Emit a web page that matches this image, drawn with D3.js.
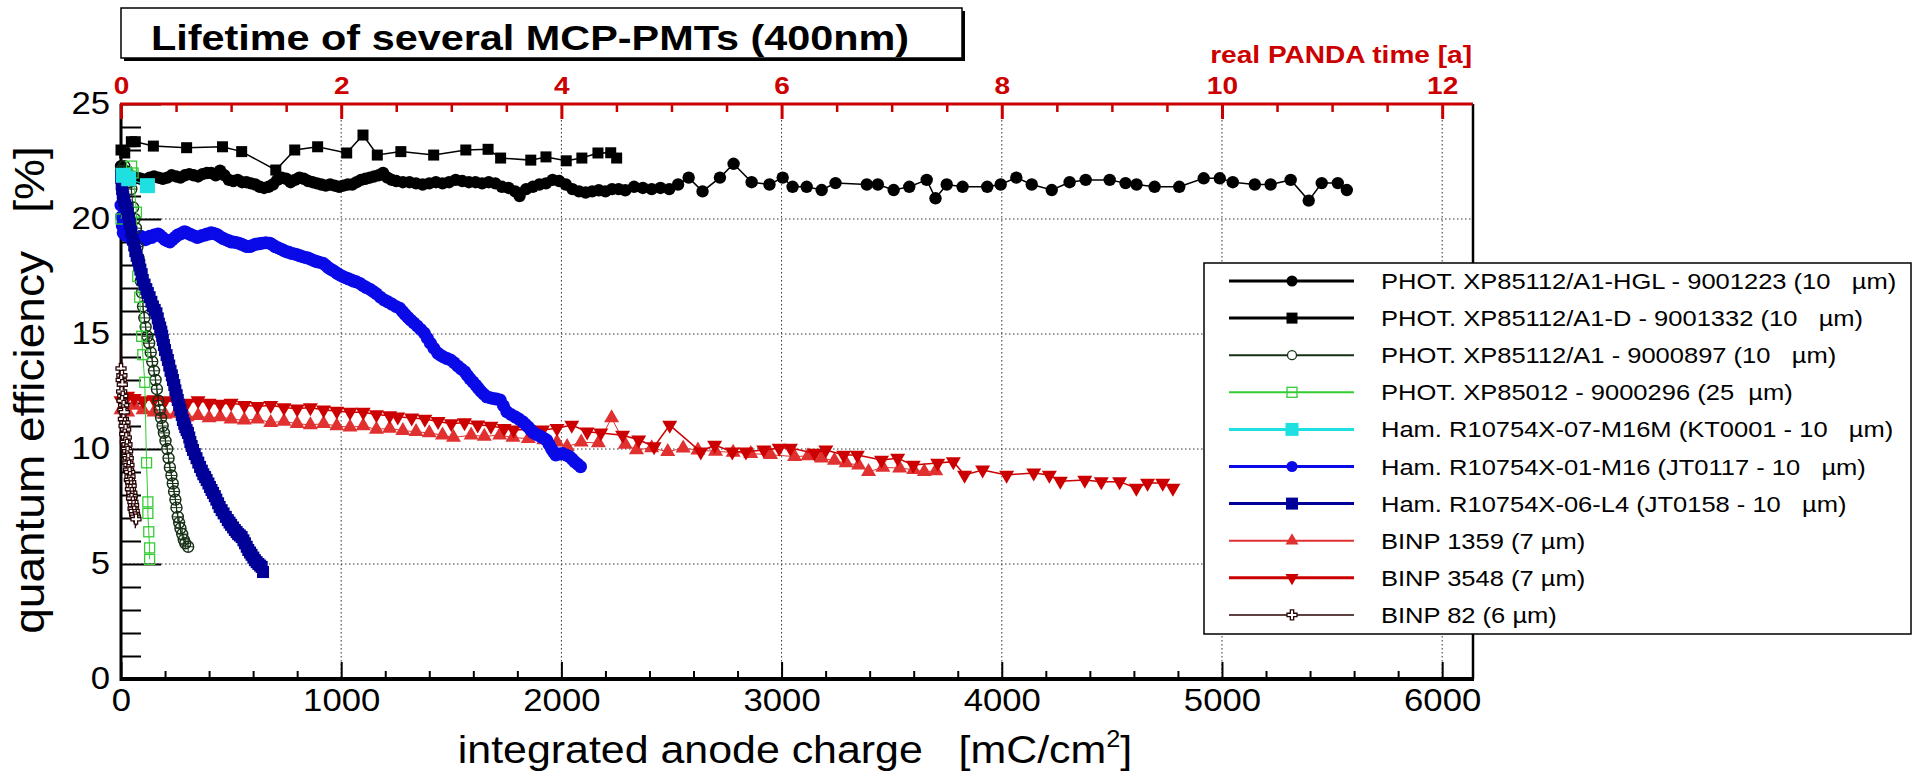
<!DOCTYPE html>
<html>
<head>
<meta charset="utf-8">
<script src="https://cdn.jsdelivr.net/npm/d3@7"></script>
<style>
  html, body { margin: 0; padding: 0; background: #fff; }
  svg { display: block; font-family: "Liberation Sans", Arial, Helvetica, sans-serif; }
  text { white-space: pre; }
</style>
</head>
<body>
<div class="chart"></div>
<script>
// ---- data: [integrated anode charge (mC/cm2), quantum efficiency (%)] ----
const phot9001223 = [[0,22.3],[15,22.1],[30,21.9],[50,21.7],[70,21.8],[90,21.75],[110,21.7],[130,21.8],[150,21.85],[170,21.8],[190,21.75],[210,21.8],[230,21.9],[250,21.85],[270,21.8],[290,21.9],[310,21.95],[330,21.9],[350,21.85],[370,21.95],[390,22.0],[410,22.0],[430,21.9],[450,22.1],[470,21.9],[490,21.7],[510,21.65],[530,21.7],[550,21.6],[570,21.6],[590,21.55],[610,21.5],[630,21.4],[650,21.35],[670,21.4],[690,21.5],[710,21.7],[730,21.8],[750,21.75],[770,21.6],[790,21.7],[810,21.8],[830,21.75],[850,21.65],[870,21.6],[890,21.55],[910,21.5],[930,21.45],[950,21.5],[970,21.45],[990,21.4],[1010,21.45],[1030,21.5],[1050,21.5],[1070,21.6],[1090,21.7],[1110,21.75],[1130,21.8],[1150,21.85],[1170,21.9],[1190,22.0],[1210,21.8],[1230,21.7],[1250,21.65],[1280,21.6],[1310,21.6],[1340,21.55],[1370,21.5],[1400,21.55],[1430,21.6],[1460,21.55],[1490,21.6],[1520,21.7],[1550,21.65],[1580,21.6],[1610,21.6],[1640,21.55],[1670,21.6],[1700,21.55],[1730,21.4],[1760,21.35],[1790,21.2],[1810,21.0],[1840,21.3],[1870,21.4],[1900,21.5],[1930,21.55],[1960,21.7],[1990,21.65],[2020,21.5],[2050,21.3],[2080,21.2],[2110,21.15],[2140,21.2],[2170,21.25],[2200,21.2],[2230,21.3],[2260,21.3],[2290,21.25],[2330,21.4],[2370,21.35],[2410,21.3],[2450,21.35],[2490,21.3],[2530,21.5],[2578,21.8],[2641,21.2],[2720,21.8],[2782,22.4],[2864,21.6],[2945,21.5],[3005,21.8],[3050,21.4],[3114,21.4],[3182,21.26],[3245,21.56],[3387,21.5],[3437,21.5],[3509,21.26],[3580,21.4],[3659,21.7],[3699,20.9],[3750,21.5],[3822,21.4],[3934,21.4],[3995,21.5],[4066,21.8],[4136,21.5],[4227,21.26],[4308,21.6],[4381,21.7],[4490,21.7],[4562,21.56],[4612,21.5],[4694,21.4],[4806,21.4],[4917,21.77],[4990,21.77],[5049,21.6],[5149,21.5],[5221,21.5],[5312,21.7],[5394,20.8],[5453,21.56],[5526,21.56],[5567,21.26]];

const phot9001332 = [[0,23.0],[17,22.87],[47,23.36],[65,23.36],[147,23.17],[298,23.1],[461,23.14],[548,22.93],[703,22.13],[789,23.0],[893,23.14],[1025,22.87],[1099,23.65],[1164,22.78],[1271,22.93],[1420,22.78],[1566,23.0],[1667,23.03],[1724,22.65],[1861,22.56],[1930,22.7],[2022,22.53],[2093,22.65],[2166,22.87],[2224,22.88],[2251,22.65]];

const phot9000897 = [[0,22.1],[15,22.3],[31,22.0],[40,21.6],[47,21.3],[55,20.5],[62,20.0],[68,19.6],[75,18.8],[80,18.3],[85,17.9],[90,17.3],[95,16.8],[100,16.2],[106,15.7],[112,15.3],[120,14.9],[128,14.6],[135,14.2],[142,13.8],[150,13.4],[157,13.0],[163,12.6],[170,12.1],[176,11.7],[182,11.35],[189,11.0],[195,10.7],[202,10.35],[210,10.0],[216,9.6],[222,9.2],[229,8.85],[235,8.5],[241,8.15],[247,7.8],[252,7.45],[258,7.05],[264,6.8],[270,6.55],[278,6.3],[285,6.05],[292,5.9],[305,5.75]];

const phot9000296 = [[0,20.0],[48,22.3],[55,22.0],[70,20.3],[76,17.5],[85,16.6],[94,14.9],[99,14.1],[108,12.9],[116,9.4],[122,7.7],[122,7.2],[126,6.4],[130,5.7],[130,5.2]];

const hamKT0001 = [[10,21.9],[35,21.75],[120,21.45]];

const hamJT0117 = [[0,20.6],[3,20.1],[6,19.7],[10,19.4],[20,19.3],[30,19.25],[40,19.2],[50,19.1],[60,19.15],[70,19.2],[77,19.17],[90,19.25],[100,19.2],[110,19.1],[120,19.15],[130,19.25],[140,19.2],[150,19.3],[160,19.3],[168,19.35],[176,19.3],[188,19.2],[200,19.1],[211,19.05],[222,19.0],[233,19.1],[245,19.2],[257,19.3],[270,19.35],[280,19.4],[289,19.45],[300,19.4],[310,19.35],[322,19.3],[335,19.25],[346,19.2],[357,19.23],[368,19.28],[380,19.3],[390,19.35],[400,19.35],[409,19.4],[418,19.38],[429,19.35],[440,19.3],[452,19.22],[465,19.15],[477,19.1],[490,19.05],[500,19.0],[510,19.0],[522,18.98],[535,18.95],[548,18.9],[560,18.85],[572,18.8],[585,18.8],[597,18.85],[610,18.9],[625,18.92],[640,18.95],[658,18.97],[676,18.95],[688,18.88],[700,18.8],[712,18.75],[725,18.7],[738,18.64],[751,18.58],[763,18.55],[775,18.5],[788,18.48],[800,18.45],[813,18.4],[826,18.36],[838,18.33],[850,18.3],[862,18.25],[875,18.2],[888,18.15],[900,18.12],[917,18.08],[928,18.0],[940,17.9],[952,17.82],[965,17.75],[980,17.65],[994,17.57],[1007,17.5],[1020,17.45],[1033,17.4],[1045,17.35],[1057,17.3],[1069,17.27],[1085,17.2],[1100,17.1],[1115,17.02],[1130,16.95],[1145,16.85],[1160,16.75],[1178,16.6],[1195,16.48],[1212,16.4],[1230,16.3],[1248,16.2],[1266,16.12],[1278,15.98],[1290,15.85],[1303,15.72],[1316,15.6],[1330,15.48],[1345,15.35],[1361,15.2],[1377,15.04],[1391,14.82],[1405,14.6],[1421,14.38],[1438,14.17],[1451,14.08],[1465,14.0],[1481,13.93],[1497,13.87],[1513,13.75],[1530,13.6],[1545,13.48],[1561,13.36],[1573,13.2],[1585,13.05],[1598,12.92],[1611,12.78],[1623,12.64],[1635,12.5],[1648,12.38],[1661,12.27],[1676,12.23],[1690,12.2],[1706,12.17],[1722,12.13],[1737,11.88],[1752,11.62],[1771,11.5],[1790,11.4],[1807,11.3],[1824,11.19],[1837,11.07],[1850,10.95],[1862,10.82],[1874,10.7],[1890,10.62],[1905,10.55],[1919,10.47],[1933,10.39],[1944,10.2],[1955,10.0],[1964,9.87],[1974,9.74],[1990,9.78],[2005,9.8],[2021,9.74],[2037,9.67],[2049,9.56],[2060,9.45],[2074,9.34],[2087,9.23]];

const hamJT0158 = [[0,21.8],[3,21.5],[5,21.3],[8,21.1],[10,20.96],[15,20.8],[20,20.6],[26,20.45],[31,20.26],[36,20.0],[40,19.8],[47,19.45],[54,19.1],[60,18.85],[65,18.6],[71,18.4],[77,18.2],[83,18.0],[88,17.8],[94,17.6],[99,17.35],[107,17.15],[115,16.95],[122,16.78],[130,16.6],[138,16.4],[145,16.2],[153,16.05],[161,15.9],[167,15.68],[172,15.45],[178,15.28],[183,15.1],[187,14.92],[190,14.74],[195,14.52],[200,14.3],[207,14.08],[213,13.87],[219,13.63],[225,13.4],[231,13.2],[236,13.0],[242,12.78],[247,12.55],[253,12.34],[258,12.13],[264,11.92],[270,11.7],[276,11.48],[281,11.26],[287,11.1],[292,10.95],[298,10.82],[304,10.7],[310,10.5],[315,10.3],[321,10.13],[327,9.96],[335,9.78],[343,9.6],[351,9.41],[359,9.22],[367,9.06],[374,8.9],[382,8.78],[389,8.65],[397,8.5],[404,8.35],[411,8.22],[418,8.09],[426,7.95],[433,7.8],[441,7.64],[448,7.48],[457,7.34],[466,7.2],[476,7.05],[485,6.91],[493,6.8],[500,6.7],[509,6.59],[517,6.48],[525,6.39],[532,6.3],[540,6.24],[548,6.17],[556,6.03],[563,5.9],[571,5.75],[578,5.61],[586,5.5],[593,5.4],[601,5.28],[608,5.17],[616,5.08],[624,5.0],[632,4.93],[639,4.87],[645,4.65]];

const binp1359 = [[0,11.7],[30,11.6],[60,11.9],[100,11.7],[150,11.6],[200,11.5],[250,11.55],[300,11.4],[350,11.45],[400,11.35],[450,11.4],[500,11.3],[560,11.25],[620,11.3],[680,11.15],[740,11.2],[800,11.1],[860,11.05],[920,11.1],[980,11.0],[1040,10.95],[1100,11.0],[1160,10.85],[1220,10.9],[1280,10.8],[1340,10.75],[1400,10.7],[1460,10.6],[1510,10.5],[1590,10.6],[1650,10.55],[1720,10.6],[1780,10.5],[1850,10.45],[1920,10.4],[1980,10.3],[2026,10.1],[2090,10.3],[2168,10.26],[2228,11.35],[2290,10.2],[2341,9.96],[2410,10.05],[2483,9.88],[2553,10.04],[2620,9.95],[2700,9.9],[2780,9.85],[2860,9.8],[2950,9.75],[3059,9.67],[3120,9.7],[3182,9.6],[3240,9.5],[3293,9.39],[3350,9.3],[3395,9.01],[3460,9.2],[3536,9.17],[3600,9.1],[3648,9.01],[3700,9.05]];

const binp3548 = [[0,12.1],[30,12.3],[60,12.2],[100,12.1],[150,12.15],[200,12.1],[250,12.05],[300,12.0],[350,12.1],[400,12.0],[450,11.95],[500,12.0],[560,11.9],[620,11.85],[680,11.9],[740,11.8],[800,11.75],[860,11.8],[920,11.7],[980,11.65],[1040,11.6],[1100,11.6],[1160,11.5],[1220,11.45],[1257,11.4],[1320,11.35],[1380,11.3],[1440,11.2],[1500,11.1],[1560,11.15],[1620,11.05],[1680,11.0],[1740,10.9],[1783,10.83],[1850,10.85],[1914,10.83],[1980,10.9],[2047,11.04],[2117,10.75],[2179,10.7],[2278,10.6],[2351,10.4],[2421,10.1],[2492,11.04],[2633,9.88],[2696,10.17],[2776,9.88],[2838,9.88],[2919,9.96],[2989,10.04],[3040,10.04],[3150,9.82],[3201,9.96],[3282,9.74],[3344,9.74],[3454,9.52],[3527,9.6],[3598,9.3],[3709,9.39],[3780,9.45],[3831,8.87],[3913,9.09],[4022,8.87],[4145,8.96],[4216,8.87],[4266,8.6],[4377,8.65],[4452,8.58],[4535,8.58],[4611,8.3],[4662,8.52],[4731,8.52],[4777,8.3]];

const binp82 = [[0,13.5],[4,13.2],[1,13.0],[6,12.8],[3,12.5],[8,12.3],[5,12.1],[12,11.9],[9,11.7],[15,11.6],[11,11.3],[18,11.15],[14,11.0],[21,10.85],[17,10.65],[24,10.5],[20,10.3],[27,10.2],[25,10.0],[30,9.9],[28,9.7],[33,9.6],[31,9.4],[36,9.3],[34,9.1],[39,9.0],[41,8.8],[38,8.65],[44,8.55],[46,8.4],[43,8.25],[49,8.1],[51,7.95],[48,7.85],[54,7.7],[57,7.55],[55,7.4],[60,7.3],[62,7.15],[65,7.05],[68,6.95]];
const binp82Err = [1.1,0.7,0.5,0.5,0.4,0.5,0.4,0.5,0.4,0.5,0.4,0.5,0.4,0.5,0.4,0.5,0.4,0.5,0.4,0.5,0.4,0.5,0.4,0.5,0.4,0.5,0.4,0.5,0.4,0.5,0.4,0.5,0.4,0.5,0.4,0.5,0.4,0.5,0.4,0.5,0.3];

const legendLabels = [
  "PHOT. XP85112/A1-HGL - 9001223 (10   \u00b5m)",
  "PHOT. XP85112/A1-D - 9001332 (10   \u00b5m)",
  "PHOT. XP85112/A1 - 9000897 (10   \u00b5m)",
  "PHOT. XP85012 - 9000296 (25  \u00b5m)",
  "Ham. R10754X-07-M16M (KT0001 - 10   \u00b5m)",
  "Ham. R10754X-01-M16 (JT0117 - 10   \u00b5m)",
  "Ham. R10754X-06-L4 (JT0158 - 10   \u00b5m)",
  "BINP 1359 (7 \u00b5m)",
  "BINP 3548 (7 \u00b5m)",
  "BINP 82 (6 \u00b5m)"
];

const chargeMajorTicks = [0, 1000, 2000, 3000, 4000, 5000, 6000];
const chargeMinorTicks = d3.range(200, 6100, 200).filter(d => d % 1000 !== 0);
const qeMajorTicks = [0, 5, 10, 15, 20, 25];
const qeMinorTicks = d3.range(1, 25).filter(d => d % 5 !== 0);
const timeMajorTicks = [0, 2, 4, 6, 8, 10, 12];
const timeMinorTicks = d3.range(0.5, 12.3, 0.5).filter(d => d % 2 !== 0);
const chargePerYear = 500;

const red = "#cc0000";

// style per series (legend order); draw order set separately
const series = [
  { data: phot9001223, color: "#000000", marker: "circle", size: 6.2, lw: 1.5, legLw: 3 },
  { data: phot9001332, color: "#000000", marker: "square", size: 11, lw: 1.5, legLw: 3 },
  { data: phot9000897, color: "#163016", marker: "oplus", size: 5.5, lw: 1, legLw: 2 },
  { data: phot9000296, color: "#33cc33", marker: "osquare", size: 10, lw: 1, legLw: 2 },
  { data: hamKT0001, color: "#1ee0e0", marker: "square", size: 15, lw: 1, legLw: 3 },
  { data: hamJT0117, color: "#0a0ae8", marker: "circle", size: 6.5, lw: 1, legLw: 3 },
  { data: hamJT0158, color: "#000099", marker: "square", size: 12, lw: 1, legLw: 3 },
  { data: binp1359, color: "#e03030", marker: "tup", size: 15, lw: 1, legLw: 2 },
  { data: binp3548, color: "#cc0000", marker: "tdown", size: 15, lw: 1.5, legLw: 3 },
  { data: binp82, color: "#2a0404", marker: "ocross", size: 10, lw: 1, legLw: 1.5, err: binp82Err }
];
const drawOrder = [7, 8, 0, 1, 5, 2, 3, 9, 6, 4];

const W = 1913, H = 778;
const svg = d3.select(".chart").append("svg").attr("width", W).attr("height", H);

const x = d3.scaleLinear().domain([0, 6140]).range([121, 1473]);
const xTime = d3.scaleLinear().domain([0, 6140 / chargePerYear]).range([121, 1473]);
const y = d3.scaleLinear().domain([0, 25]).range([679, 104]);

function wideText(g, px, py, str, size, sx, anchor, weight, fill) {
  return g.append("text")
    .attr("transform", `translate(${px},${py}) scale(${sx},1)`)
    .attr("text-anchor", anchor)
    .attr("font-size", size)
    .attr("font-weight", weight)
    .attr("fill", fill)
    .text(str);
}

function drawMarker(g, type, cx, cy, color, size) {
  const t = `translate(${cx},${cy})`;
  if (type === "circle") {
    g.append("circle").attr("cx", cx).attr("cy", cy).attr("r", size).attr("fill", color);
  } else if (type === "square") {
    g.append("rect").attr("x", cx - size / 2).attr("y", cy - size / 2)
      .attr("width", size).attr("height", size).attr("fill", color);
  } else if (type === "osquare") {
    g.append("rect").attr("x", cx - size / 2).attr("y", cy - size / 2)
      .attr("width", size).attr("height", size).attr("fill", "none")
      .attr("stroke", color).attr("stroke-width", 1.3);
  } else if (type === "oplus") {
    g.append("circle").attr("cx", cx).attr("cy", cy).attr("r", size)
      .attr("fill", "none").attr("stroke", color).attr("stroke-width", 1.4);
    g.append("path").attr("d", `M${cx - size},${cy}H${cx + size}M${cx},${cy - size}V${cy + size}`)
      .attr("stroke", color).attr("stroke-width", 1);
  } else if (type === "tup" || type === "tdown") {
    const area = Math.sqrt(3) / 4 * size * size;
    g.append("path").attr("d", d3.symbol(d3.symbolTriangle, area)())
      .attr("transform", t + (type === "tdown" ? " rotate(180)" : ""))
      .attr("fill", color);
  } else if (type === "ocross") {
    const a = size / 2, b = size / 6;
    g.append("path")
      .attr("d", `M${-b},${-a}H${b}V${-b}H${a}V${b}H${b}V${a}H${-b}V${b}H${-a}V${-b}H${-b}Z`)
      .attr("transform", t).attr("fill", "#fff").attr("stroke", color).attr("stroke-width", 1.3);
  }
}

// ---- grid ----
const grid = svg.append("g").attr("stroke", "#333").attr("stroke-width", 1).attr("stroke-dasharray", "1.5,2.5");
grid.selectAll(".vg").data(chargeMajorTicks.slice(1)).join("line")
  .attr("x1", d => x(d)).attr("x2", d => x(d)).attr("y1", y(25)).attr("y2", y(0));
grid.selectAll(".hg").data(qeMajorTicks.slice(1, -1)).join("line")
  .attr("x1", x(0)).attr("x2", x.range()[1]).attr("y1", d => y(d)).attr("y2", d => y(d));

// ---- left axis ----
const labelFont = "Liberation Sans, Arial, sans-serif";
const leftAxis = svg.append("g").attr("transform", `translate(${x(0)},0)`);
leftAxis.append("g")
  .call(d3.axisLeft(y).tickValues(qeMinorTicks).tickSize(-20).tickFormat(""))
  .call(g => g.select(".domain").remove())
  .call(g => g.selectAll("line").attr("stroke", "#000").attr("stroke-width", 2));
leftAxis.append("g")
  .call(d3.axisLeft(y).tickValues(qeMajorTicks).tickSize(-40).tickPadding(11))
  .call(g => g.select(".domain").remove())
  .call(g => g.selectAll("line").attr("stroke", "#000").attr("stroke-width", 2))
  .call(g => g.selectAll("text")
    .attr("font-size", 31).attr("font-family", labelFont)
    .attr("fill", "#000").attr("x", -11 / 1.12).attr("transform", "scale(1.12,1)"));

// ---- bottom axis ----
const bottomAxis = svg.append("g").attr("transform", `translate(0,${y(0)})`);
bottomAxis.append("g")
  .call(d3.axisBottom(x).tickValues(chargeMinorTicks).tickSize(-8).tickFormat(""))
  .call(g => g.select(".domain").remove())
  .call(g => g.selectAll("line").attr("stroke", "#000").attr("stroke-width", 2));
bottomAxis.append("g")
  .call(d3.axisBottom(x).tickValues(chargeMajorTicks).tickSize(-17).tickPadding(10).tickFormat(d3.format("d")))
  .call(g => g.select(".domain").remove())
  .call(g => g.selectAll("line").attr("stroke", "#000").attr("stroke-width", 2))
  .call(g => g.selectAll("text")
    .attr("font-size", 31).attr("font-family", labelFont)
    .attr("fill", "#000").attr("transform", "scale(1.12,1)"));

// ---- frame lines ----
svg.append("line").attr("x1", x(0)).attr("x2", x(0)).attr("y1", y(25)).attr("y2", y(0) + 2)
  .attr("stroke", "#000").attr("stroke-width", 3);
svg.append("line").attr("x1", x(0) - 1).attr("x2", x.range()[1] + 1).attr("y1", y(0)).attr("y2", y(0))
  .attr("stroke", "#000").attr("stroke-width", 4);
svg.append("line").attr("x1", x.range()[1]).attr("x2", x.range()[1]).attr("y1", y(25)).attr("y2", y(0))
  .attr("stroke", "#000").attr("stroke-width", 2.5);

// ---- data ----
const plot = svg.append("g");
const line = d3.line().x(d => x(d[0])).y(d => y(d[1]));
drawOrder.forEach(i => {
  const s = series[i];
  const g = plot.append("g");
  if (s.err) {
    s.data.forEach((d, j) => {
      g.append("line").attr("x1", x(d[0])).attr("x2", x(d[0]))
        .attr("y1", y(d[1] - s.err[j])).attr("y2", y(d[1] + s.err[j]))
        .attr("stroke", s.color).attr("stroke-width", 1.3);
    });
  }
  g.append("path").datum(s.data).attr("d", line)
    .attr("fill", "none").attr("stroke", s.color).attr("stroke-width", s.lw);
  s.data.forEach(d => drawMarker(g, s.marker, x(d[0]), y(d[1]), s.color, s.size));
});

// ---- top (red) time axis ----
const timeAxis = svg.append("g").attr("transform", `translate(0,${y(25)})`).attr("color", red);
timeAxis.append("g")
  .call(d3.axisTop(xTime).tickValues(timeMinorTicks).tickSize(-8).tickFormat(""))
  .call(g => g.select(".domain").remove())
  .call(g => g.selectAll("line").attr("stroke-width", 2.5));
timeAxis.append("g")
  .call(d3.axisTop(xTime).tickValues(timeMajorTicks).tickSize(-15).tickPadding(10).tickFormat(d3.format("d")))
  .call(g => g.select(".domain").remove())
  .call(g => g.selectAll("line").attr("stroke-width", 3))
  .call(g => g.selectAll("text")
    .attr("font-size", 23).attr("font-weight", "bold")
    .attr("font-family", labelFont).attr("transform", "scale(1.22,1)"));
svg.append("line").attr("x1", x(0) - 1).attr("x2", x.range()[1]).attr("y1", y(25)).attr("y2", y(25))
  .attr("stroke", red).attr("stroke-width", 3);
wideText(svg, 1472, 63, "real PANDA time [a]", 23, 1.22, "end", "bold", red);

// ---- axis titles ----
const xt = wideText(svg, 795, 763, "integrated anode charge   [mC/cm", 39, 1.1, "middle", "normal", "#000");
xt.append("tspan").attr("font-size", 23).attr("dy", -16).text("2");
xt.append("tspan").attr("dy", 16).text("]");
svg.append("text")
  .attr("transform", "translate(44,390) rotate(-90) scale(1.07,1)")
  .attr("text-anchor", "middle").attr("font-size", 43).attr("fill", "#000")
  .text("quantum efficiency   [%]");

// ---- title box ----
svg.append("rect").attr("x", 124).attr("y", 11).attr("width", 841).attr("height", 50).attr("fill", "#000");
svg.append("rect").attr("x", 121).attr("y", 8).attr("width", 841).attr("height", 50)
  .attr("fill", "#fff").attr("stroke", "#000").attr("stroke-width", 1.5);
wideText(svg, 530, 50, "Lifetime of several MCP-PMTs (400nm)", 36, 1.15, "middle", "bold", "#000");

// ---- legend ----
const legend = svg.append("g");
legend.append("rect").attr("x", 1204).attr("y", 263).attr("width", 707).attr("height", 371)
  .attr("fill", "#fff").attr("stroke", "#000").attr("stroke-width", 1.5);
series.forEach((s, i) => {
  const ry = 281 + i * 37.1;
  const g = legend.append("g");
  g.append("line").attr("x1", 1229).attr("x2", 1354).attr("y1", ry).attr("y2", ry)
    .attr("stroke", s.color).attr("stroke-width", s.legLw);
  if (s.marker === "oplus") {
    g.append("circle").attr("cx", 1292).attr("cy", ry).attr("r", 4.5)
      .attr("fill", "#fff").attr("stroke", s.color).attr("stroke-width", 1.3);
  } else {
    drawMarker(g, s.marker, 1292, ry, s.color, s.marker === "circle" ? 5.5 : Math.min(s.size, 13));
  }
  wideText(g, 1381, ry + 8, legendLabels[i], 22, 1.16, "start", "normal", "#000");
});
</script>
</body>
</html>
